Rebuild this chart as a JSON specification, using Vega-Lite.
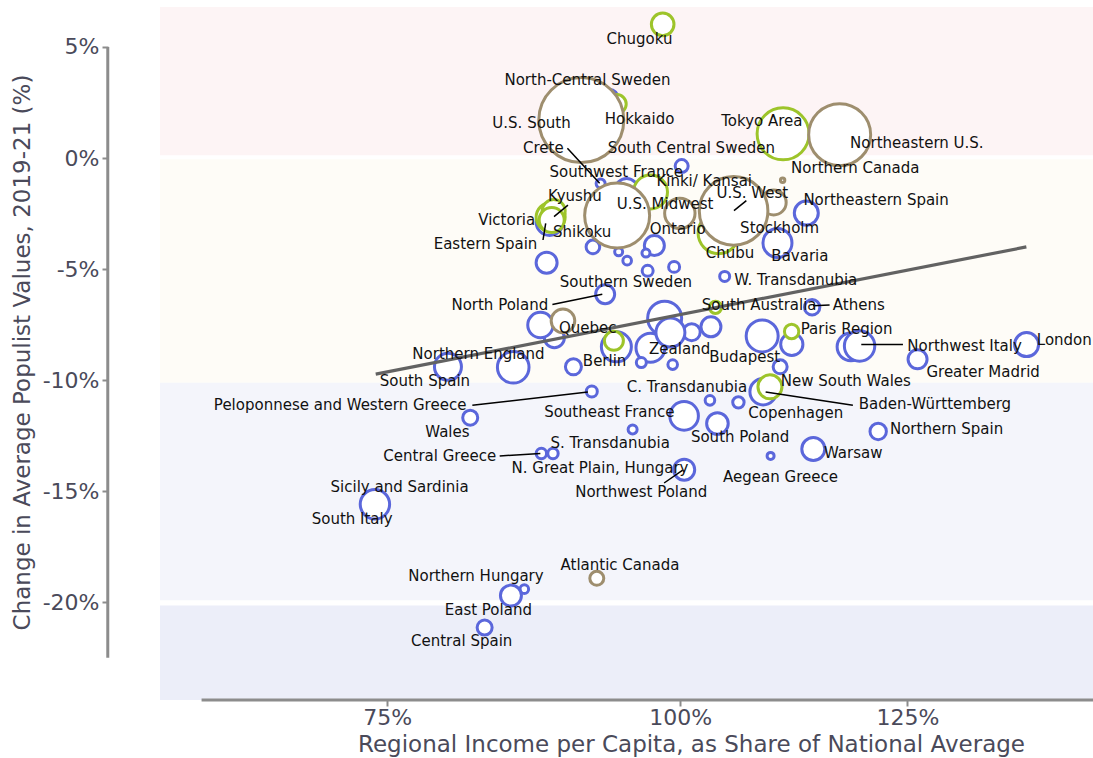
{
  "$schema": "https://vega.github.io/schema/vega-lite/v6.json",
  "width": 933,
  "height": 693,
  "autosize": {"type": "none"},
  "padding": {"left": 160, "top": 7, "right": 0, "bottom": 58},
  "background": "white",
  "config": {"view": {"stroke": null}, "font": "DejaVu Sans", "axis": {"grid": false}},
  "datasets": {
    "bands": [
      {"band": "rise", "y": 0.13, "y2": 6.8},
      {"band": "small fall", "y": -10.12, "y2": -0.06},
      {"band": "large fall", "y": -19.91, "y2": -10.12},
      {"band": "very large fall", "y": -24.4, "y2": -20.14}
    ],
    "axislines": [
      {"x": 57.0, "x2": 57.0, "y": -22.5, "y2": 5},
      {"x": 62.5, "x2": 150, "y": -24.4, "y2": -24.4}
    ],
    "trend": [
      {"x": 74.16, "y": -9.73},
      {"x": 140.5, "y": -4.0}
    ],
    "points": [
      {"name": "North-Central Sweden", "grp": "Europe", "x": 93.31, "y": 2.70, "pop": 4.52},
      {"name": "Crete", "grp": "Europe", "x": 92.49, "y": -1.15, "pop": 1.27},
      {"name": "Southwest France", "grp": "Europe", "x": 100.15, "y": -0.36, "pop": 2.64},
      {"name": "Region E1", "grp": "Europe", "x": 94.88, "y": -1.44, "pop": 8.27},
      {"name": "Eastern Spain", "grp": "Europe", "x": 87.97, "y": -2.88, "pop": 11.39},
      {"name": "Region E2", "grp": "Europe", "x": 87.71, "y": -4.71, "pop": 6.89},
      {"name": "Southern Sweden", "grp": "Europe", "x": 91.79, "y": -4.00, "pop": 2.89},
      {"name": "Region E3", "grp": "Europe", "x": 94.14, "y": -4.22, "pop": 1.0},
      {"name": "Region E4", "grp": "Europe", "x": 94.93, "y": -4.62, "pop": 1.16},
      {"name": "Region E5", "grp": "Europe", "x": 97.50, "y": -3.94, "pop": 6.25},
      {"name": "Region E6", "grp": "Europe", "x": 96.70, "y": -4.28, "pop": 1.0},
      {"name": "Region E7", "grp": "Europe", "x": 96.86, "y": -5.08, "pop": 1.89},
      {"name": "Region E8", "grp": "Europe", "x": 99.41, "y": -4.90, "pop": 1.89},
      {"name": "Stockholm", "grp": "Europe", "x": 106.54, "y": -2.57, "pop": 6.89},
      {"name": "Northeastern Spain", "grp": "Europe", "x": 113.19, "y": -2.48, "pop": 9.0},
      {"name": "Bavaria", "grp": "Europe", "x": 110.03, "y": -3.82, "pop": 13.14},
      {"name": "W. Transdanubia", "grp": "Europe", "x": 104.47, "y": -5.33, "pop": 1.56},
      {"name": "North Poland", "grp": "Europe", "x": 92.90, "y": -6.13, "pop": 5.64},
      {"name": "Region E9", "grp": "Europe", "x": 88.38, "y": -8.09, "pop": 6.25},
      {"name": "Region E10", "grp": "Europe", "x": 87.18, "y": -7.52, "pop": 10.08},
      {"name": "Northern England", "grp": "Europe", "x": 84.88, "y": -9.42, "pop": 15.6},
      {"name": "South Spain", "grp": "Europe", "x": 79.61, "y": -9.40, "pop": 11.39},
      {"name": "Region E11", "grp": "Europe", "x": 90.05, "y": -9.40, "pop": 4.0},
      {"name": "Berlin", "grp": "Europe", "x": 93.93, "y": -8.50, "pop": 14.06},
      {"name": "Zealand", "grp": "Europe", "x": 97.13, "y": -8.54, "pop": 13.14},
      {"name": "Region E13", "grp": "Europe", "x": 98.49, "y": -7.21, "pop": 18.06},
      {"name": "Region E14", "grp": "Europe", "x": 101.14, "y": -7.84, "pop": 4.52},
      {"name": "Region E15", "grp": "Europe", "x": 99.05, "y": -7.86, "pop": 13.14},
      {"name": "Region E16", "grp": "Europe", "x": 103.07, "y": -7.60, "pop": 6.25},
      {"name": "Region E17", "grp": "Europe", "x": 96.26, "y": -9.21, "pop": 1.56},
      {"name": "Region E18", "grp": "Europe", "x": 99.27, "y": -9.30, "pop": 1.44},
      {"name": "Budapest", "grp": "Europe", "x": 108.39, "y": -8.01, "pop": 16.0},
      {"name": "Paris Region", "grp": "Europe", "x": 111.59, "y": -8.39, "pop": 7.7},
      {"name": "Region E19", "grp": "Europe", "x": 110.32, "y": -9.40, "pop": 3.06},
      {"name": "Athens", "grp": "Europe", "x": 113.84, "y": -6.72, "pop": 3.71},
      {"name": "Region E20", "grp": "Europe", "x": 118.26, "y": -8.50, "pop": 11.9},
      {"name": "Northwest Italy", "grp": "Europe", "x": 119.27, "y": -8.46, "pop": 14.44},
      {"name": "Greater Madrid", "grp": "Europe", "x": 126.26, "y": -9.06, "pop": 5.64},
      {"name": "London", "grp": "Europe", "x": 140.53, "y": -8.40, "pop": 9.0},
      {"name": "Peloponnese and Western Greece", "grp": "Europe", "x": 91.69, "y": -10.51, "pop": 1.89},
      {"name": "Wales", "grp": "Europe", "x": 81.37, "y": -11.69, "pop": 3.52},
      {"name": "S. Transdanubia", "grp": "Europe", "x": 95.44, "y": -12.22, "pop": 1.27},
      {"name": "Southeast France", "grp": "Europe", "x": 100.39, "y": -11.61, "pop": 12.78},
      {"name": "South Poland", "grp": "Europe", "x": 103.73, "y": -11.95, "pop": 7.29},
      {"name": "Baden-Württemberg", "grp": "Europe", "x": 108.49, "y": -10.52, "pop": 10.89},
      {"name": "C. Transdanubia", "grp": "Europe", "x": 102.97, "y": -10.91, "pop": 1.44},
      {"name": "Copenhagen", "grp": "Europe", "x": 105.89, "y": -11.0, "pop": 2.03},
      {"name": "Aegean Greece", "grp": "Europe", "x": 109.29, "y": -13.41, "pop": 0.77},
      {"name": "Warsaw", "grp": "Europe", "x": 113.97, "y": -13.10, "pop": 8.27},
      {"name": "Northern Spain", "grp": "Europe", "x": 121.47, "y": -12.31, "pop": 4.2},
      {"name": "Central Greece", "grp": "Europe", "x": 87.26, "y": -13.30, "pop": 1.69},
      {"name": "N. Great Plain, Hungary", "grp": "Europe", "x": 88.26, "y": -13.30, "pop": 1.69},
      {"name": "Northwest Poland", "grp": "Europe", "x": 100.40, "y": -14.03, "pop": 6.89},
      {"name": "Sicily and Sardinia", "grp": "Europe", "x": 74.16, "y": -15.54, "pop": 6.89},
      {"name": "South Italy", "grp": "Europe", "x": 74.10, "y": -15.59, "pop": 13.5},
      {"name": "Northern Hungary", "grp": "Europe", "x": 85.81, "y": -19.41, "pop": 1.16},
      {"name": "East Poland", "grp": "Europe", "x": 84.69, "y": -19.70, "pop": 6.89},
      {"name": "Central Spain", "grp": "Europe", "x": 82.53, "y": -21.14, "pop": 3.52},
      {"name": "Hokkaido", "grp": "Japan and Australia", "x": 93.96, "y": 2.43, "pop": 5.64},
      {"name": "Chugoku", "grp": "Japan and Australia", "x": 98.30, "y": 6.02, "pop": 7.98},
      {"name": "Tokyo Area", "grp": "Japan and Australia", "x": 110.64, "y": 1.09, "pop": 42.25},
      {"name": "Kinki/ Kansai", "grp": "Japan and Australia", "x": 97.13, "y": -1.53, "pop": 18.06},
      {"name": "Victoria", "grp": "Japan and Australia", "x": 88.06, "y": -2.66, "pop": 13.14},
      {"name": "Kyushu", "grp": "Japan and Australia", "x": 88.32, "y": -2.39, "pop": 8.27},
      {"name": "Shikoku", "grp": "Japan and Australia", "x": 88.15, "y": -2.79, "pop": 9.77},
      {"name": "Chubu", "grp": "Japan and Australia", "x": 103.85, "y": -3.38, "pop": 26.3},
      {"name": "South Australia", "grp": "Japan and Australia", "x": 103.53, "y": -6.72, "pop": 2.33},
      {"name": "Region A1", "grp": "Japan and Australia", "x": 93.70, "y": -8.23, "pop": 5.64},
      {"name": "Region A2", "grp": "Japan and Australia", "x": 111.57, "y": -7.81, "pop": 3.24},
      {"name": "New South Wales", "grp": "Japan and Australia", "x": 109.22, "y": -10.30, "pop": 9.0},
      {"name": "Northern Canada", "grp": "North America", "x": 110.59, "y": -1.0, "pop": 0.30},
      {"name": "Region N1", "grp": "North America", "x": 109.62, "y": -2.00, "pop": 9.77},
      {"name": "U.S. South", "grp": "North America", "x": 90.75, "y": 1.71, "pop": 112.9},
      {"name": "Northeastern U.S.", "grp": "North America", "x": 116.96, "y": 1.05, "pop": 60.06},
      {"name": "U.S. Midwest", "grp": "North America", "x": 94.00, "y": -2.59, "pop": 66.0},
      {"name": "Ontario", "grp": "North America", "x": 99.97, "y": -2.49, "pop": 14.44},
      {"name": "U.S. West", "grp": "North America", "x": 105.39, "y": -2.38, "pop": 73.53},
      {"name": "Quebec", "grp": "North America", "x": 89.13, "y": -7.33, "pop": 8.7},
      {"name": "Atlantic Canada", "grp": "North America", "x": 92.14, "y": -18.92, "pop": 3.06}
    ],
    "leaders": [
      {"label": "Crete", "sx": 89.52, "sy": 0.44, "ex": 92.40, "ey": -1.14},
      {"label": "Kyushu", "sx": 89.57, "sy": -2.12, "ex": 88.35, "ey": -2.64},
      {"label": "Eastern Spain", "sx": 87.40, "sy": -3.69, "ex": 87.63, "ey": -2.94},
      {"label": "U.S. West", "sx": 106.72, "sy": -1.92, "ex": 105.43, "ey": -2.37},
      {"label": "North Poland", "sx": 88.21, "sy": -6.59, "ex": 92.64, "ey": -6.13},
      {"label": "Peloponnese and Western Greece", "sx": 81.54, "sy": -11.13, "ex": 91.34, "ey": -10.53},
      {"label": "Athens", "sx": 115.81, "sy": -6.62, "ex": 113.93, "ey": -6.65},
      {"label": "Northwest Italy", "sx": 124.46, "sy": -8.39, "ex": 119.47, "ey": -8.39},
      {"label": "Baden-Württemberg", "sx": 118.49, "sy": -11.13, "ex": 108.76, "ey": -10.53},
      {"label": "Central Greece", "sx": 83.76, "sy": -13.41, "ex": 87.17, "ey": -13.30},
      {"label": "Northwest Poland", "sx": 98.44, "sy": -14.63, "ex": 100.25, "ey": -14.05}
    ],
    "labels": [
      {"label": "Chugoku", "lx": 96.08, "ly": 5.36},
      {"label": "North-Central Sweden", "lx": 91.30, "ly": 3.51},
      {"label": "Hokkaido", "lx": 96.09, "ly": 1.76},
      {"label": "U.S. South", "lx": 86.42, "ly": 1.56},
      {"label": "Tokyo Area", "lx": 108.36, "ly": 1.68},
      {"label": "Crete", "lx": 87.43, "ly": 0.46},
      {"label": "South Central Sweden", "lx": 101.11, "ly": 0.46},
      {"label": "Northeastern U.S.", "lx": 126.17, "ly": 0.66},
      {"label": "Northern Canada", "lx": 118.77, "ly": -0.44},
      {"label": "Southwest France", "lx": 93.91, "ly": -0.64},
      {"label": "Kinki/ Kansai", "lx": 102.39, "ly": -1.04},
      {"label": "U.S. West", "lx": 107.34, "ly": -1.56},
      {"label": "Northeastern Spain", "lx": 121.22, "ly": -1.89},
      {"label": "Kyushu", "lx": 90.18, "ly": -1.71},
      {"label": "U.S. Midwest", "lx": 98.53, "ly": -2.09},
      {"label": "Victoria", "lx": 84.34, "ly": -2.79},
      {"label": "Shikoku", "lx": 90.83, "ly": -3.32},
      {"label": "Ontario", "lx": 99.76, "ly": -3.20},
      {"label": "Stockholm", "lx": 110.26, "ly": -3.17},
      {"label": "Eastern Spain", "lx": 82.60, "ly": -3.89},
      {"label": "Chubu", "lx": 105.03, "ly": -4.27},
      {"label": "Bavaria", "lx": 112.48, "ly": -4.41},
      {"label": "W. Transdanubia", "lx": 112.03, "ly": -5.50},
      {"label": "Southern Sweden", "lx": 94.82, "ly": -5.57},
      {"label": "North Poland", "lx": 83.77, "ly": -6.62},
      {"label": "South Australia", "lx": 108.07, "ly": -6.62},
      {"label": "Athens", "lx": 119.18, "ly": -6.62},
      {"label": "Quebec", "lx": 91.32, "ly": -7.64},
      {"label": "Paris Region", "lx": 117.76, "ly": -7.70},
      {"label": "London", "lx": 145.83, "ly": -8.17},
      {"label": "Northwest Italy", "lx": 132.23, "ly": -8.45},
      {"label": "Zealand", "lx": 99.95, "ly": -8.60},
      {"label": "Northern England", "lx": 82.03, "ly": -8.83},
      {"label": "Budapest", "lx": 106.54, "ly": -8.95},
      {"label": "Berlin", "lx": 92.85, "ly": -9.13},
      {"label": "Greater Madrid", "lx": 134.66, "ly": -9.63},
      {"label": "South Spain", "lx": 77.83, "ly": -10.05},
      {"label": "C. Transdanubia", "lx": 100.67, "ly": -10.30},
      {"label": "New South Wales", "lx": 117.67, "ly": -10.03},
      {"label": "Peloponnese and Western Greece", "lx": 71.61, "ly": -11.13},
      {"label": "Baden-Württemberg", "lx": 128.43, "ly": -11.09},
      {"label": "Southeast France", "lx": 93.28, "ly": -11.43},
      {"label": "Copenhagen", "lx": 112.03, "ly": -11.47},
      {"label": "Wales", "lx": 79.57, "ly": -12.33},
      {"label": "Northern Spain", "lx": 129.91, "ly": -12.21},
      {"label": "South Poland", "lx": 106.07, "ly": -12.55},
      {"label": "S. Transdanubia", "lx": 93.36, "ly": -12.82},
      {"label": "Warsaw", "lx": 118.52, "ly": -13.27},
      {"label": "Central Greece", "lx": 78.97, "ly": -13.42},
      {"label": "N. Great Plain, Hungary", "lx": 92.43, "ly": -13.95},
      {"label": "Aegean Greece", "lx": 110.36, "ly": -14.36},
      {"label": "Sicily and Sardinia", "lx": 75.92, "ly": -14.83},
      {"label": "Northwest Poland", "lx": 96.25, "ly": -15.03},
      {"label": "South Italy", "lx": 72.46, "ly": -16.26},
      {"label": "Atlantic Canada", "lx": 94.26, "ly": -18.33},
      {"label": "Northern Hungary", "lx": 81.83, "ly": -18.83},
      {"label": "East Poland", "lx": 82.83, "ly": -20.36},
      {"label": "Central Spain", "lx": 80.69, "ly": -21.74}
    ]
  },
  "layer": [
    {
      "data": {"name": "bands"},
      "mark": {"type": "rect"},
      "encoding": {
        "x": {"datum": 60, "type": "quantitative", "scale": {"type": "log", "domain": [60, 150], "nice": false}},
        "x2": {"datum": 150},
        "y": {"field": "y", "type": "quantitative", "scale": {"domain": [-24.4, 6.8], "nice": false, "zero": false}},
        "y2": {"field": "y2"},
        "fill": {"field": "band", "type": "nominal", "scale": {"domain": ["rise", "small fall", "large fall", "very large fall"], "range": ["#fdf4f5", "#fefcf7", "#f4f5fb", "#eceef9"]}, "legend": null}
      }
    },
    {
      "data": {"name": "axislines"},
      "mark": {"type": "rule", "color": "#8c8c8c", "strokeWidth": 3},
      "encoding": {
        "x": {"field": "x", "type": "quantitative", "scale": {"type": "log", "domain": [60, 150], "nice": false}},
        "x2": {"field": "x2"},
        "y": {"field": "y", "type": "quantitative", "scale": {"domain": [-24.4, 6.8], "nice": false, "zero": false}},
        "y2": {"field": "y2"}
      }
    },
    {
      "data": {"name": "points"},
      "mark": {"type": "point", "shape": "circle", "filled": true, "fill": "white", "fillOpacity": 1, "opacity": 1, "strokeWidth": 3},
      "encoding": {
        "x": {
          "field": "x", "type": "quantitative",
          "scale": {"type": "log", "domain": [60, 150], "nice": false},
          "axis": {
            "title": "Regional Income per Capita, as Share of National Average",
            "values": [75, 100, 125],
            "labelExpr": "datum.value + '%'",
            "domain": false, "grid": false,
            "tickSize": 6, "tickWidth": 2, "tickColor": "#8c8c8c",
            "labelFontSize": 22, "labelColor": "#4a4a5a", "labelPadding": 1, "labelFont": "DejaVu Sans",
            "titleFontSize": 23, "titleFontWeight": "normal", "titleColor": "#4a4a5a", "titleFont": "DejaVu Sans",
            "titleX": 531, "titleY": 44, "titleBaseline": "middle", "titleAlign": "center"
          }
        },
        "y": {
          "field": "y", "type": "quantitative",
          "scale": {"domain": [-24.4, 6.8], "nice": false, "zero": false},
          "axis": {
            "title": "Change in Average Populist Values, 2019-21 (%)",
            "values": [-20, -15, -10, -5, 0, 5],
            "labelExpr": "datum.value + '%'",
            "offset": 52,
            "domain": false, "grid": false,
            "tickSize": 6, "tickWidth": 2, "tickColor": "#8c8c8c",
            "labelFontSize": 22, "labelColor": "#4a4a5a", "labelPadding": 3, "labelFont": "DejaVu Sans",
            "titleFontSize": 23, "titleFontWeight": "normal", "titleColor": "#4a4a5a", "titleFont": "DejaVu Sans",
            "titleX": -86, "titleY": 345, "titleBaseline": "middle", "titleAlign": "center", "titleAngle": -90
          }
        },
        "size": {"field": "pop", "type": "quantitative", "scale": {"type": "linear", "domain": [0, 100], "range": [0, 6400]}, "legend": null},
        "stroke": {"field": "grp", "type": "nominal", "scale": {"domain": ["Europe", "Japan and Australia", "North America"], "range": ["#5b67db", "#9dc42a", "#9e8e6e"]}, "legend": null}
      }
    },
    {
      "data": {"name": "trend"},
      "mark": {"type": "line", "color": "#626262", "strokeWidth": 3.2},
      "encoding": {
        "x": {"field": "x", "type": "quantitative", "scale": {"type": "log", "domain": [60, 150], "nice": false}},
        "y": {"field": "y", "type": "quantitative", "scale": {"domain": [-24.4, 6.8], "nice": false, "zero": false}}
      }
    },
    {
      "data": {"name": "leaders"},
      "mark": {"type": "rule", "color": "#000000", "strokeWidth": 1.5},
      "encoding": {
        "x": {"field": "sx", "type": "quantitative", "scale": {"type": "log", "domain": [60, 150], "nice": false}},
        "y": {"field": "sy", "type": "quantitative", "scale": {"domain": [-24.4, 6.8], "nice": false, "zero": false}},
        "x2": {"field": "ex"},
        "y2": {"field": "ey"}
      }
    },
    {
      "data": {"name": "labels"},
      "mark": {"type": "text", "font": "DejaVu Sans", "fontSize": 15, "color": "#111111", "align": "center", "baseline": "middle"},
      "encoding": {
        "x": {"field": "lx", "type": "quantitative", "scale": {"type": "log", "domain": [60, 150], "nice": false}},
        "y": {"field": "ly", "type": "quantitative", "scale": {"domain": [-24.4, 6.8], "nice": false, "zero": false}},
        "text": {"field": "label", "type": "nominal"}
      }
    }
  ]
}
